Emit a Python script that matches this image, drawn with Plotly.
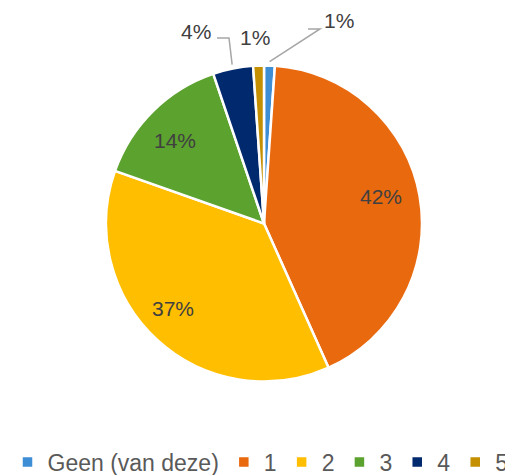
import math
import plotly.graph_objects as go

# ---- data ----
categories = ["Geen (van deze)", "1", "2", "3", "4", "5"]
values = [1.1, 42.2, 37.1, 14.4, 4.1, 1.1]
colors = ["#3E8ED6", "#E9690F", "#FFBE00", "#5BA22E", "#00296E", "#C48F00"]

# page has an 8px body margin: figure occupies page px 8..513 x 8..475
OFF = 8
W, H = 513 - OFF, 475 - OFF
CX, CY, R = 264 - OFF, 223.5 - OFF, 158  # pie center/radius in figure px

fig = go.Figure(go.Pie(
    labels=categories,
    values=values,
    sort=False,
    direction="clockwise",
    rotation=0,
    marker=dict(colors=colors, line=dict(color="white", width=2.5)),
    textinfo="none",
    hoverinfo="label+percent",
    domain=dict(x=[(CX - R) / W, (CX + R) / W], y=[1 - (CY + R) / H, 1 - (CY - R) / H]),
))

def px(x, y):
    # page px -> paper coords
    return (x - OFF) / W, 1 - (y - OFF) / H

total = sum(values)
pct = [round(v / total * 100) for v in values]
labels_txt = [f"{p}%" for p in pct]

# label positions (page px) for each slice
label_pos = [(339, 21), (381, 197), (173, 308), (175, 140), (196, 32), (255, 37)]
font_lbl = dict(family="Liberation Sans, Arial, sans-serif", size=21, color="#404040")
for (x, y), t in zip(label_pos, labels_txt):
    fx, fy = px(x, y)
    fig.add_annotation(x=fx, y=fy, xref="paper", yref="paper", text=t,
                       showarrow=False, font=font_lbl, xanchor="center", yanchor="middle")

# leader lines for slices 0 (Geen) and 4 (navy), anchored at slice mid-angle
cum = 0
mids = []
for v in values:
    mids.append((cum + v / 2) / total * 2 * math.pi)
    cum += v

def edge(i, extra=4):
    a = mids[i]
    return CX + OFF + (R + extra) * math.sin(a), CY + OFF - (R + extra) * math.cos(a)

leaders = {0: [(308, 29), (320, 29)], 4: [(217, 38), (229, 38)]}
for i, pts in leaders.items():
    path_pts = pts + [edge(i)]
    d = "M " + " L ".join("{},{}".format(*px(x, y)) for x, y in path_pts)
    fig.add_shape(type="path", path=d, xref="paper", yref="paper",
                  line=dict(color="#A6A6A6", width=1.5))

lx, ly = px(0, 462)
fig.update_layout(
    width=W, height=H,
    margin=dict(l=0, r=0, t=0, b=0, autoexpand=False),
    paper_bgcolor="white",
    plot_bgcolor="white",
    font=dict(family="Liberation Sans, Arial, sans-serif", color="#595959"),
    showlegend=True,
    legend=dict(orientation="h", x=0.5, xanchor="center", y=ly, yanchor="middle",
                font=dict(size=23, color="#595959"), itemclick=False),
)

fig.write_html("out.html")
